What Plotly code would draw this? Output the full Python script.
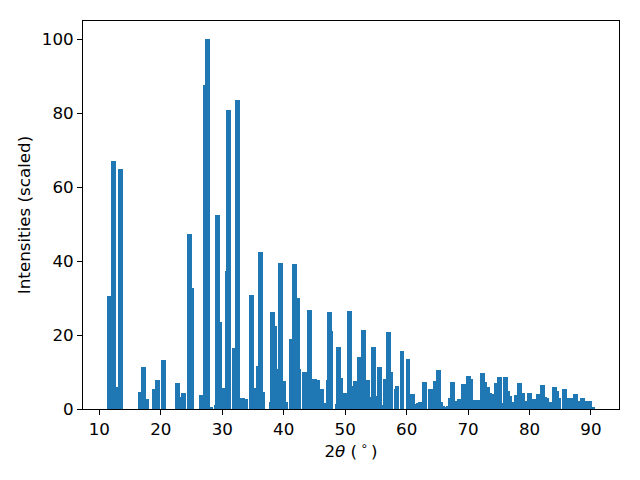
import plotly.graph_objects as go

two_theta = [
    11.70, 12.35, 13.15, 13.49, 16.73, 17.22, 17.71, 19.00, 19.40, 20.47,
    22.74, 23.55, 23.71, 24.69, 25.01, 26.63, 27.28, 27.61, 28.10, 29.07,
    29.23, 29.55, 30.04, 30.78, 31.01, 31.99, 32.47, 33.29, 33.77, 34.75,
    35.56, 35.88, 36.20, 36.53, 37.99, 38.15, 38.48, 38.64, 39.45, 39.94,
    40.26, 41.24, 41.72, 42.21, 42.37, 43.35, 44.16, 44.97, 45.46, 46.10,
    46.43, 47.24, 47.40, 47.57, 48.69, 48.86, 49.19, 49.68, 49.84, 50.65,
    50.97, 51.30, 51.62, 52.27, 52.92, 53.57, 53.73, 54.54, 54.70, 55.52,
    55.68, 56.49, 56.98, 57.46, 58.28, 58.44, 59.25, 60.22, 61.03, 61.52,
    62.00, 62.33, 62.98, 63.85, 64.05, 64.77, 65.25, 65.60, 65.90, 66.30,
    66.75, 67.20, 67.50, 67.85, 68.10, 68.40, 68.65, 69.31, 70.12, 70.45,
    71.10, 71.45, 71.80, 72.39, 72.70, 73.20, 73.55, 73.85, 74.67, 75.15,
    75.45, 76.13, 76.45, 76.70, 77.00, 77.30, 77.90, 78.39, 78.80, 79.20,
    80.02, 80.40, 80.80, 81.40, 82.13, 82.50, 82.80, 83.30, 84.08, 84.40,
    84.80, 85.70, 86.10, 86.60, 87.48, 87.90, 88.62, 89.30, 89.75, 90.20,
]

intensity = [
    30.6, 67.0, 6.0, 65.0, 4.6, 11.4, 2.7, 5.4, 7.9, 13.3,
    7.0, 3.2, 4.3, 47.4, 32.8, 3.8, 87.8, 100.0, 0.5, 1.1,
    52.6, 23.6, 5.7, 37.4, 80.8, 16.5, 83.5, 3.0, 2.8, 30.9,
    5.6, 11.7, 42.5, 4.6, 1.9, 26.3, 22.5, 10.8, 39.6, 7.6,
    1.9, 19.0, 39.3, 30.1, 10.8, 10.0, 26.8, 8.1, 7.9, 5.4,
    1.6, 7.9, 26.3, 21.1, 1.4, 16.8, 8.4, 3.5, 4.3, 26.6,
    6.2, 4.1, 7.6, 14.1, 21.4, 7.9, 3.2, 16.8, 3.5, 11.4,
    1.1, 8.1, 20.9, 10.0, 5.4, 6.2, 15.7, 13.5, 4.1, 1.4,
    1.6, 2.0, 7.3, 5.4, 3.0, 7.6, 10.6, 1.9, 0.8, 0.3,
    0.8, 3.0, 7.3, 2.2, 0.8, 1.9, 2.7, 6.8, 8.9, 8.1,
    2.4, 1.6, 2.4, 9.8, 7.3, 6.0, 4.3, 4.1, 7.0, 8.7,
    1.6, 8.7, 4.9, 3.5, 1.1, 1.9, 3.8, 7.0, 4.3, 2.2,
    4.3, 2.4, 2.7, 4.1, 6.5, 3.2, 3.0, 1.9, 6.0, 4.9,
    3.0, 5.4, 3.0, 3.0, 4.1, 2.2, 3.0, 2.2, 2.2, 0.3,
]

x_ticks = [10, 20, 30, 40, 50, 60, 70, 80, 90]
y_ticks = [0, 20, 40, 60, 80, 100]

fig = go.Figure(
    go.Bar(
        x=two_theta,
        y=intensity,
        width=0.8,
        marker=dict(color="#1f77b4", line=dict(width=0)),
    )
)

font = dict(family="DejaVu Sans", size=16.7, color="black")
fig.update_layout(
    width=640,
    height=480,
    margin=dict(l=75, r=29, t=13, b=79, autoexpand=False),
    paper_bgcolor="white",
    plot_bgcolor="white",
    font=font,
    showlegend=False,
    bargap=0,
)
fig.update_xaxes(
    range=[7.34, 94.56],
    tickvals=x_ticks,
    ticks="outside",
    ticklen=5,
    tickwidth=1,
    tickcolor="black",
    showline=True,
    linecolor="black",
    linewidth=1,
    mirror=True,
    showgrid=False,
    zeroline=False,
    automargin=False,
    title=dict(text="2<i>θ</i> (\u2009<sup>∘</sup>\u2009)", font=font, standoff=4),
)
fig.update_yaxes(
    range=[0, 105],
    tickvals=y_ticks,
    ticks="outside",
    ticklen=5,
    tickwidth=1,
    tickcolor="black",
    showline=True,
    linecolor="black",
    linewidth=1,
    mirror=True,
    showgrid=False,
    zeroline=False,
    automargin=False,
    title=dict(text="Intensities (scaled)", font=font, standoff=6),
)

fig.write_html("out.html")
